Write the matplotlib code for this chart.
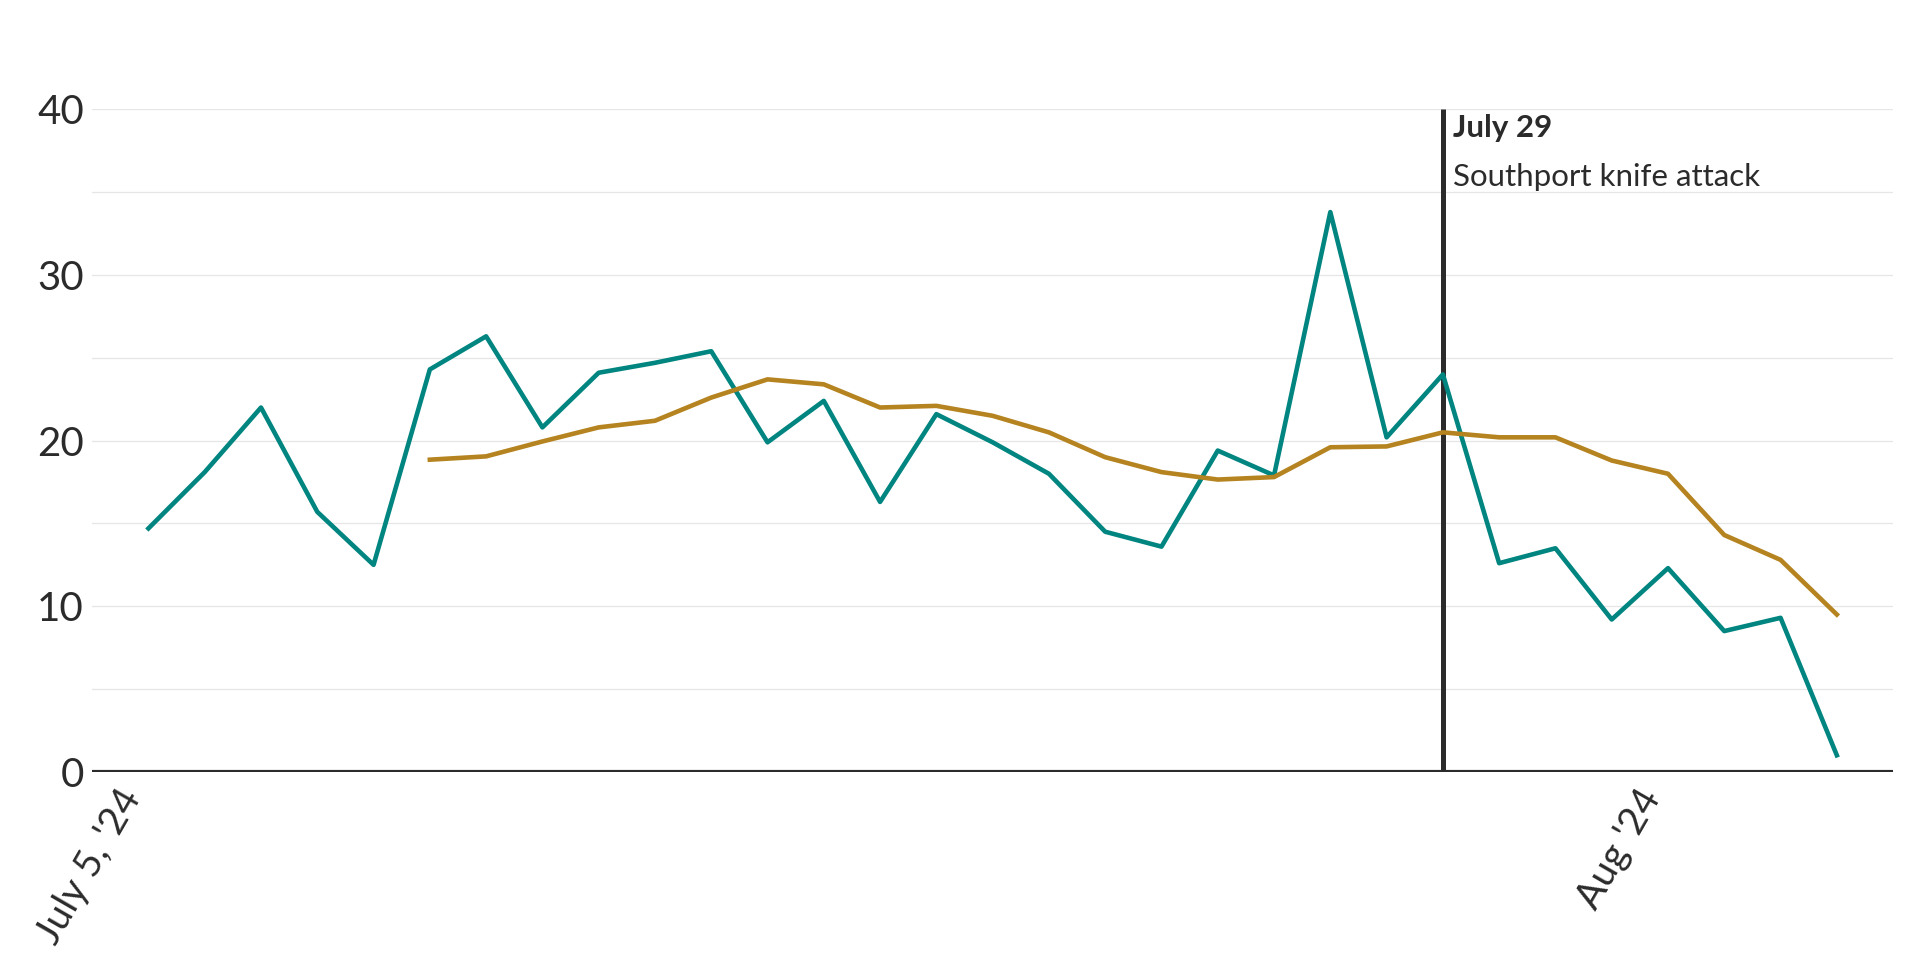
import numpy as np
import pandas as pd
import matplotlib
matplotlib.use("Agg")
import matplotlib.pyplot as plt

plt.rcParams['font.family'] = ['Lato', 'DejaVu Sans']

# daily values, July 5 - Aug 4 2024
dates = pd.date_range("2024-07-05", periods=31, freq="D")
daily = [14.7, 18.1, 22.0, 15.7, 12.5, 24.3, 26.3, 20.8, 24.1, 24.7,
         25.4, 19.9, 22.4, 16.3, 21.6, 19.9, 18.0, 14.5, 13.6, 19.4,
         17.9, 33.8, 20.2, 24.0, 12.6, 13.5, 9.2, 12.3, 8.5, 9.3, 1.0]
# rolling average (starts on 6th day)
rolling = [np.nan] * 5 + [18.85, 19.05, 19.95, 20.8, 21.2, 22.6, 23.7, 23.4, 22.0, 22.1,
                          21.5, 20.5, 19.0, 18.1, 17.65, 17.8, 19.6, 19.65, 20.5, 20.2,
                          20.2, 18.8, 18.0, 14.3, 12.8, 9.5]

event_x = pd.Timestamp("2024-07-28")
event_date_label = "July 29"
event_text = "Southport knife attack"

x_ticks = [pd.Timestamp("2024-07-05"), pd.Timestamp("2024-08-01")]
x_ticklabels = ["July 5, '24", "Aug '24"]
y_ticks = [0, 10, 20, 30, 40]

teal = "#008580"
gold = "#b5831f"
ink = "#2b2b2b"

fig = plt.figure(figsize=(19.2, 9.6), dpi=100)
ax = fig.add_axes([0.048, 0.196, 0.938, 0.690])

for g in range(5, 45, 5):
    ax.axhline(g, color="#e6e6e6", lw=0.9, zorder=0)

ax.plot([event_x, event_x], [0, 40], color=ink, lw=3.6, zorder=1, solid_capstyle="butt")
ax.plot(dates, rolling, color=gold, lw=3.3, zorder=3)
ax.plot(dates, daily, color=teal, lw=3.3, zorder=2)
ax.axhline(0, color=ink, lw=3.0, zorder=4)

ax.set_xlim(pd.Timestamp("2024-07-04"), pd.Timestamp("2024-08-05"))
ax.set_ylim(0, 40)

ax.set_yticks(y_ticks)
ax.set_yticklabels([str(v) for v in y_ticks], fontsize=29, color=ink)
ax.set_xticks(x_ticks)
ax.set_xticklabels(x_ticklabels, fontsize=28, color=ink, rotation=60, ha="right", va="top")
ax.tick_params(axis="y", length=0, pad=6)
ax.tick_params(axis="x", length=0, pad=8)

for s in ax.spines.values():
    s.set_visible(False)

ax.annotate(event_date_label, xy=(event_x, 40), xycoords="data", xytext=(7, -20),
            textcoords="offset points", fontsize=22.5, fontweight="bold", color=ink,
            ha="left", va="baseline")
ax.annotate(event_text, xy=(event_x, 40), xycoords="data", xytext=(7, -55),
            textcoords="offset points", fontsize=22.5, color=ink,
            ha="left", va="baseline")

fig.savefig("out.png", dpi=100)
